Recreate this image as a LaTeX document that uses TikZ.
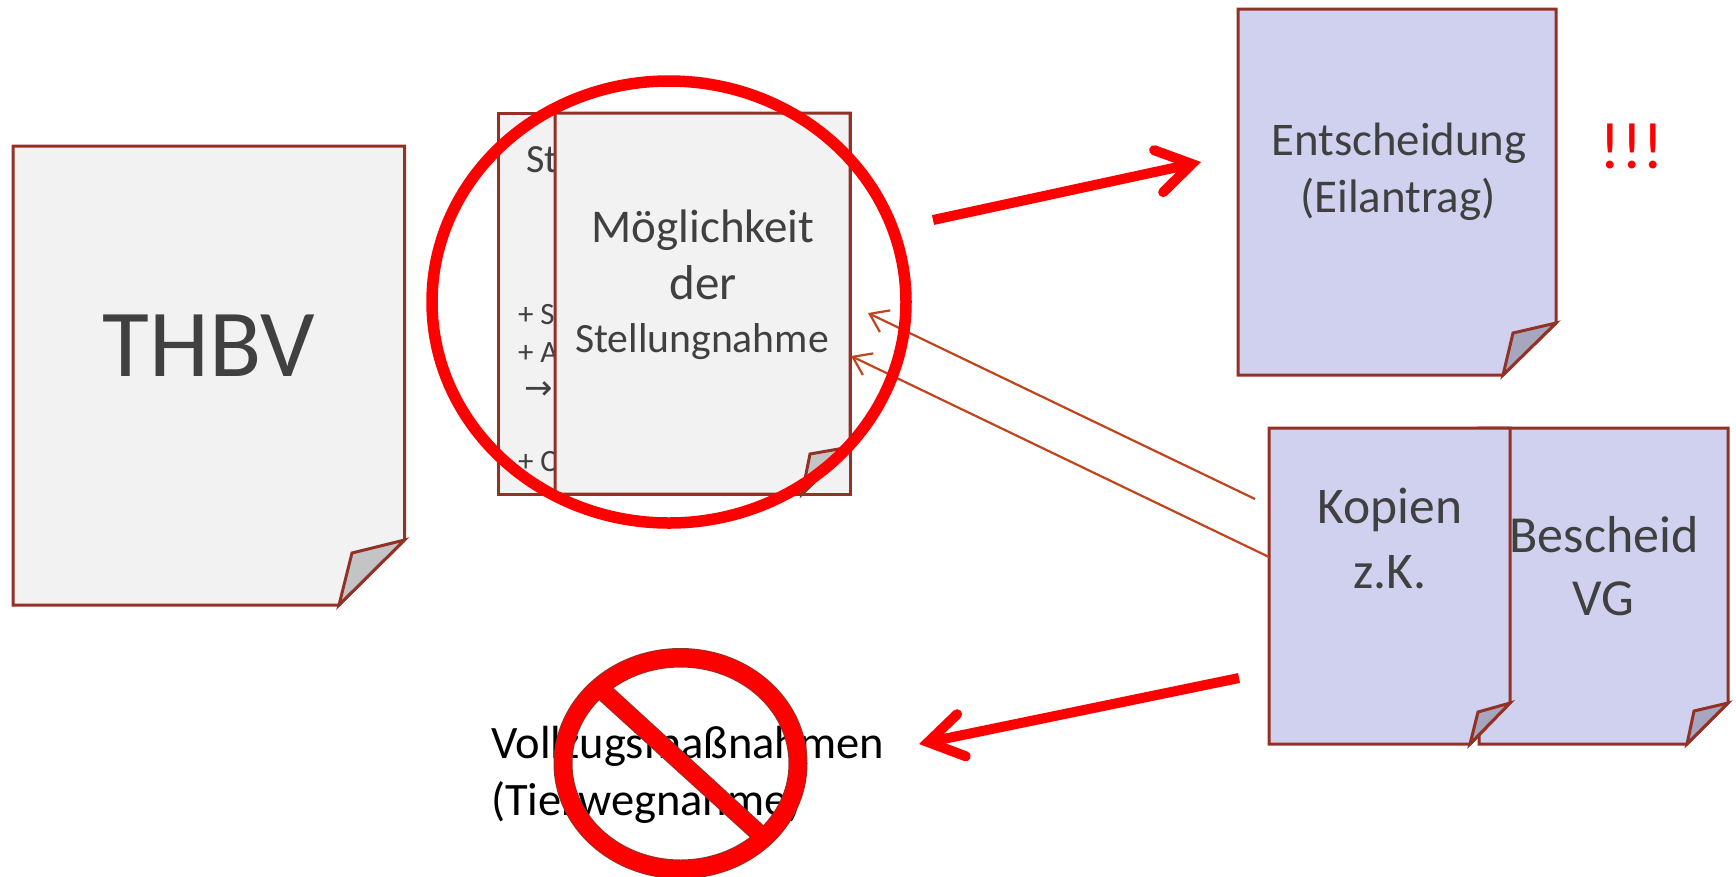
\documentclass[tikz,border=0pt]{standalone}
\usepackage{fontspec}
\setmainfont{Carlito}
\newfontfamily\arrowfont{DejaVu Sans}
\usetikzlibrary{arrows.meta}
\definecolor{edgecol}{HTML}{943126}
\definecolor{greydoc}{HTML}{F2F2F2}
\definecolor{greyfold}{HTML}{C4C4C4}
\definecolor{bluedoc}{HTML}{D0D1EE}
\definecolor{bluefold}{HTML}{A6A7BE}
\definecolor{inktext}{HTML}{404040}
\definecolor{thinarrow}{HTML}{C0451F}
\newcommand{\docpage}[9]{%
  % x1,y1,x2,y2, foldBottomX, foldRightY, innerX, innerY, colour-prefix
  \draw[pageedge,fill=#9doc] (#1,#2) -- (#3,#2) -- (#3,#6) -- (#5,#4) -- (#1,#4) -- cycle;
  \draw[pageedge,fill=#9fold] (#5,#4) -- (#7,#8) -- (#3,#6) -- cycle;
}
\tikzset{
  pageedge/.style={draw=edgecol,line width=3pt,line join=miter},
  doclabel/.style={text=inktext,anchor=base,inner sep=0pt,outer sep=0pt},
  boldarrow/.style={draw=red,line width=10pt,-{Straight Barb[length=34pt,width=43pt,line width=10pt,line cap=round,line join=miter]}},
  fine/.style={draw=thinarrow,line width=2.2pt,-{Straight Barb[length=17pt,width=24pt,line width=2.2pt]}},
}
\begin{document}
\begin{tikzpicture}[x=1pt,y=-1pt]
\useasboundingbox (0,0) rectangle (1736,876);
% THBV
\docpage{13}{146}{404.5}{605}{339}{540}{352}{553}{grey}
\node[doclabel,font=\fontsize{96}{96}\selectfont] (thbv) at (209,376) {THBV};
% Stellungnahme stack
\draw[pageedge,fill=greydoc] (498.5,113) rectangle (850,494);
\node[doclabel,anchor=base west,font=\fontsize{40}{40}\selectfont] (st) at (526,172) {St};
\node[doclabel,anchor=base west,font=\fontsize{31}{31}\selectfont] (plusS) at (518,324) {+ S};
\node[doclabel,anchor=base west,font=\fontsize{31}{31}\selectfont] (plusA) at (518,362) {+ A};
\node[doclabel,anchor=base west,font=\fontsize{34}{34}\arrowfont] (pfeil) at (524,399) {→};
\node[doclabel,anchor=base west,font=\fontsize{31}{31}\selectfont] (plusC) at (518,471) {+ C};
\docpage{555}{113}{850}{494}{802}{447}{810}{454}{grey}
\node[doclabel,font=\fontsize{47}{47}\selectfont] (moeg) at (703,242) {Möglichkeit};
\node[doclabel,font=\fontsize{49}{49}\selectfont] (der) at (703,299) {der};
\node[doclabel,font=\fontsize{41.7}{42}\selectfont] (stlg) at (702,352) {Stellungnahme};
% Entscheidung
\docpage{1238}{9}{1556}{375}{1503}{323}{1513}{333}{blue}
\node[doclabel,font=\fontsize{46.8}{47}\selectfont] (ents) at (1399,155) {Entscheidung};
\node[doclabel,font=\fontsize{47}{47}\selectfont] (eil) at (1398,212) {(Eilantrag)};
\node[text=red,anchor=base,inner sep=0pt,font=\fontsize{66}{66}\selectfont] (warn) at (1632,168) {!!!};
% Bescheid / Kopien
\docpage{1479}{428}{1728}{744}{1687}{703}{1694}{711}{blue}
\node[doclabel,font=\fontsize{52}{52}\selectfont] (besch) at (1604,552) {Bescheid};
\node[doclabel,font=\fontsize{52}{52}\selectfont] (vg) at (1603,615) {VG};
\docpage{1269}{428}{1510}{744}{1470}{703}{1478}{712}{blue}
\node[doclabel,font=\fontsize{51.5}{52}\selectfont] (kop) at (1390,523) {Kopien};
\node[doclabel,font=\fontsize{51.5}{52}\selectfont] (zk) at (1390,588) {z.K.};
% connector ends
\coordinate (a1s) at (933,220);
\coordinate (a1e) at (1201,162);
\coordinate (a2s) at (1239,678);
\coordinate (a2e) at (919,744);
\coordinate (t1s) at (1255,499);
\coordinate (t1e) at (868,313);
\coordinate (t2s) at (1269,557);
\coordinate (t2e) at (851,356);
\draw[fine] (t1s) -- (t1e);
\draw[fine] (t2s) -- (t2e);
\draw[boldarrow] (a1s) -- (a1e);
\draw[boldarrow] (a2s) -- (a2e);
% big circle
\draw[draw=red,line width=11.5pt] (669,302) ellipse [x radius=237pt,y radius=221pt];
% Vollzug
\node[text=black,anchor=base west,inner sep=0pt,font=\fontsize{46.5}{47}\selectfont] (voll) at (491,758) {Vollzugsmaßnahmen};
\node[text=black,anchor=base west,inner sep=0pt,font=\fontsize{46.5}{47}\selectfont] (tier) at (491,815) {(Tierwegnahme)};
% prohibition sign
\begin{scope}
\clip (0,0) rectangle (1736,876);
\draw[edgecol,line width=2pt] (680.5,763.5) ellipse [x radius=126pt,y radius=114.5pt];
\draw[edgecol,line width=2pt] (680.5,763.5) ellipse [x radius=109pt,y radius=97pt];
\draw[edgecol,line width=2pt] (598,698) -- (752,838) (612,688) -- (764,827);
\fill[red,even odd rule] (680.5,763.5) ellipse [x radius=126pt,y radius=114.5pt] (680.5,763.5) ellipse [x radius=109pt,y radius=97pt];
\fill[red] (598,698) -- (752,838) -- (764,827) -- (612,688) -- cycle;
\end{scope}
\end{tikzpicture}
\end{document}
